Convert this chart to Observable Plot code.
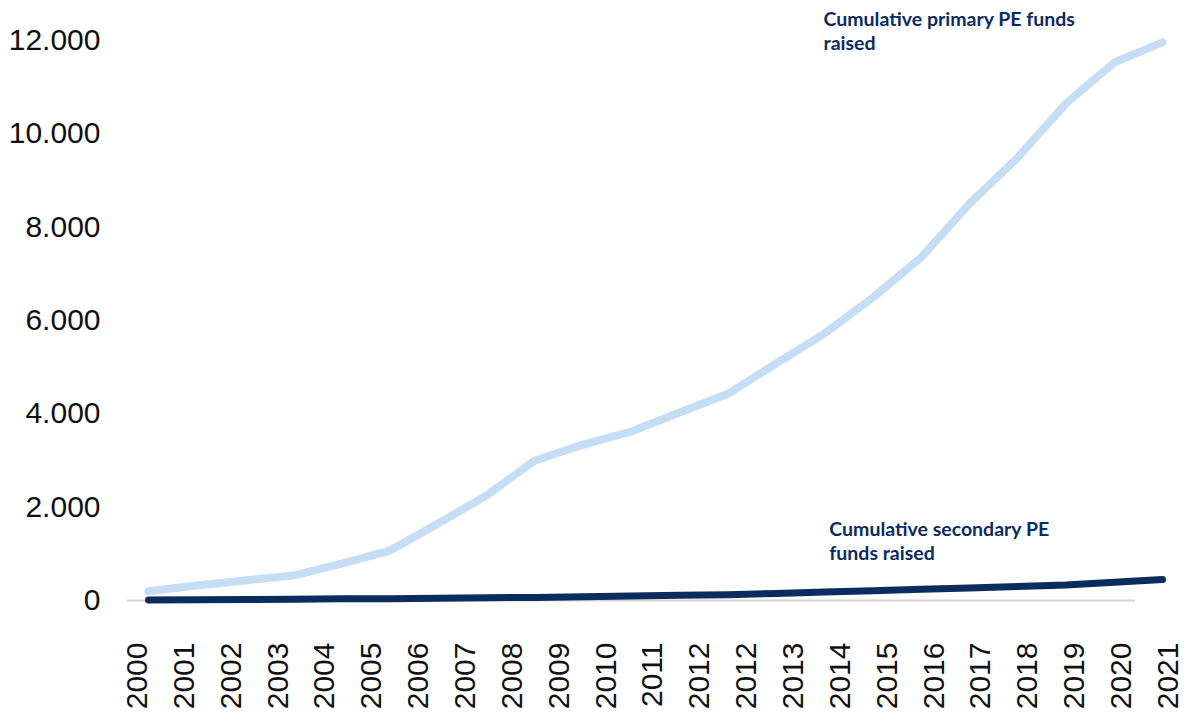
<!DOCTYPE html>
<html>
<head>
<meta charset="utf-8">
<script src="https://cdn.jsdelivr.net/npm/d3@7"></script>
<script src="https://cdn.jsdelivr.net/npm/@observablehq/plot@0.6"></script>
<style>
  html, body { margin: 0; padding: 0; background: #ffffff; }
  #chart svg { display: block; }
</style>
</head>
<body>
<div id="chart"></div>
<script>
// ---- data ----
const years = [2000, 2001, 2002, 2003, 2004, 2005, 2006, 2007, 2008, 2009, 2010,
               2011, 2012, 2013, 2014, 2015, 2016, 2017, 2018, 2019, 2020, 2021];

const primaryFunds = [200, 320, 430, 535, 790, 1070, 1650, 2250, 3000, 3340, 3620,
                      4030, 4430, 5080, 5720, 6490, 7350, 8500, 9490, 10650, 11530, 11960];

const secondaryFunds = [10, 15, 20, 25, 35, 40, 50, 60, 65, 80, 95,
                        110, 125, 150, 180, 210, 240, 270, 300, 330, 390, 450];

const seriesNames = ["Cumulative primary PE funds raised", "Cumulative secondary PE funds raised"];

const annotationTexts = ["Cumulative primary PE funds\nraised", "Cumulative secondary PE\nfunds raised"];

// axis tick labels as printed in the reference (note the repeated 2012)
const xTickLabels = ["2000", "2001", "2002", "2003", "2004", "2005", "2006", "2007", "2008", "2009",
                     "2010", "2011", "2012", "2012", "2013", "2014", "2015", "2016", "2017", "2018",
                     "2019", "2020", "2021"];
const yTicks = [0, 2000, 4000, 6000, 8000, 10000, 12000];

// ---- build tables ----
const rows = years.flatMap((year, i) => [
  {year, value: primaryFunds[i], series: seriesNames[0]},
  {year, value: secondaryFunds[i], series: seriesNames[1]}
]);

const euro = d3.formatLocale({decimal: ",", thousands: ".", grouping: [3], currency: ["", ""]});
const yFormat = euro.format(",.0f");

// the printed year labels are evenly spread across a slightly wider span than the line
const tickFirst = 1999.77, tickLast = 2021.12;
const tickStep = (tickLast - tickFirst) / (xTickLabels.length - 1);
const xTickRows = xTickLabels.map((label, i) => ({pos: tickFirst + i * tickStep, label}));

const navy = "#0b2c5f";
const lightBlue = "#c6ddf6";
const annotationFont = "Lato, 'Open Sans', sans-serif";

const chart = Plot.plot({
  width: 1191,
  height: 721,
  marginLeft: 127,
  marginRight: 56,
  marginTop: 40,
  marginBottom: 121,
  style: {fontFamily: "'Liberation Sans', Arial, sans-serif", background: "#ffffff", color: "#111"},
  x: {type: "linear", domain: [1999.565, 2020.441], axis: null},
  y: {domain: [0, 12000]},
  color: {domain: seriesNames, range: [lightBlue, navy]},
  marks: [
    Plot.ruleY([0], {stroke: "#d4d4d4", strokeWidth: 2}),
    Plot.axisY(yTicks, {tickSize: 0, tickPadding: 27, tickFormat: yFormat, fontSize: 30, label: null}),
    Plot.text(xTickRows, {
      x: "pos", text: "label", frameAnchor: "bottom", dy: 42, rotate: -90,
      textAnchor: "end", lineAnchor: "middle", fontSize: 30, fill: "#111"
    }),
    Plot.line(rows.filter(d => d.series === seriesNames[0]), {
      x: "year", y: "value", stroke: "series", strokeWidth: 8,
      strokeLinecap: "round", strokeLinejoin: "round"
    }),
    Plot.line(rows.filter(d => d.series === seriesNames[1]), {
      x: "year", y: "value", stroke: "series", strokeWidth: 7,
      strokeLinecap: "round", strokeLinejoin: "round"
    }),
    Plot.text([annotationTexts[0]], {
      x: 2013.98, y: 12680, text: d => d, textAnchor: "start", lineAnchor: "top",
      fill: navy, fontWeight: "bold", fontSize: 19.5, lineHeight: 1.23,
      fontFamily: annotationFont
    }),
    Plot.text([annotationTexts[1]], {
      x: 2014.1, y: 1750, text: d => d, textAnchor: "start", lineAnchor: "top",
      fill: navy, fontWeight: "bold", fontSize: 19.5, lineHeight: 1.23,
      fontFamily: annotationFont
    })
  ]
});

document.getElementById("chart").appendChild(chart);
</script>
</body>
</html>
